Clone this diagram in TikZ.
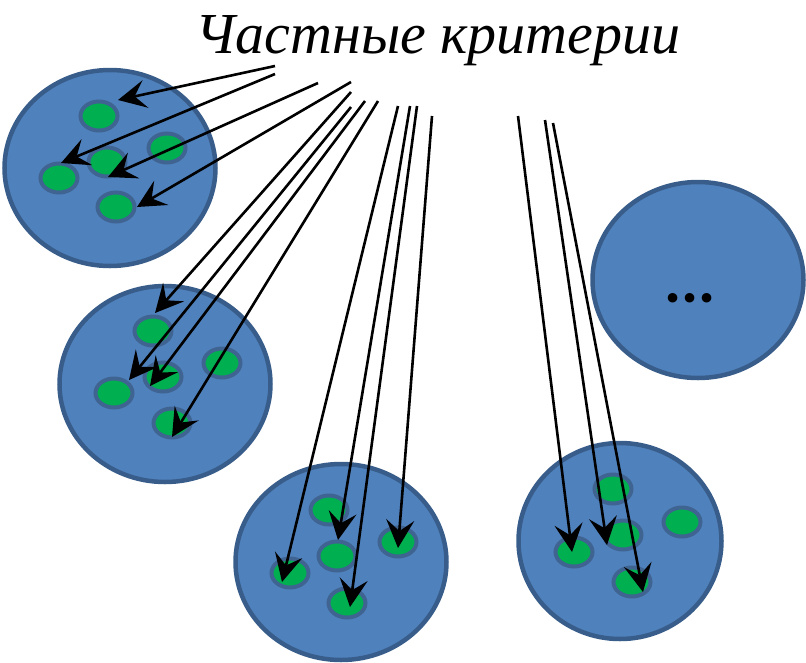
\documentclass[tikz,border=0pt]{standalone}
\usepackage{fontspec}
\setmainfont{Liberation Serif}
\newfontfamily\dotsfont{Carlito}
\usetikzlibrary{shapes.geometric,arrows.meta}
\definecolor{groupblue}{HTML}{4F81BD}
\definecolor{groupedge}{HTML}{385D8A}
\definecolor{itemedge}{HTML}{3F6491}
\definecolor{itemgreen}{HTML}{00B050}
\begin{document}
\begin{tikzpicture}[x=1pt, y=-1pt,
        group/.style={ellipse, draw=groupedge, fill=groupblue, line width=4.5pt,
            minimum width=211pt, minimum height=196pt, inner sep=0pt},
        item/.style={ellipse, draw=itemedge, fill=itemgreen, line width=4pt,
            minimum width=37pt, minimum height=29pt, inner sep=0pt},
        crit/.style={-{Stealth[length=28pt, width=28pt, inset=11pt]}, line width=2.6pt}]
    \useasboundingbox (0, 0) rectangle (806, 662);

    \node at (438, 53) [anchor=base, font=\itshape\fontsize{58}{64}\selectfont] (title) {Частные критерии};

    \node at (110, 168) [group] (G_1) {};
    \node at (165, 384) [group] (G_2) {};
    \node at (341, 562) [group] (G_3) {};
    \node at (620, 541) [group, minimum width=203pt] (G_4) {};
    \node at (698, 280) [group] (G_5) {};
    \node at (690, 298) [inner sep=0pt, font=\dotsfont\bfseries\fontsize{64}{64}\selectfont] (dots) {...};

    \node at (99, 116) [item] (s_11) {};
    \node at (167, 148) [item] (s_12) {};
    \node at (107, 162) [item] (s_13) {};
    \node at (59, 178) [item] (s_14) {};
    \node at (116, 207) [item] (s_15) {};

    \node at (153, 331) [item] (s_21) {};
    \node at (222, 363) [item] (s_22) {};
    \node at (163, 377) [item] (s_23) {};
    \node at (114, 393) [item] (s_24) {};
    \node at (172, 423) [item] (s_25) {};

    \node at (329, 510) [item] (s_31) {};
    \node at (398, 542) [item] (s_32) {};
    \node at (337, 556) [item] (s_33) {};
    \node at (290, 573) [item] (s_34) {};
    \node at (347, 603) [item] (s_35) {};

    \node at (613, 489) [item] (s_41) {};
    \node at (682, 522) [item] (s_42) {};
    \node at (623, 535) [item] (s_43) {};
    \node at (574, 552) [item] (s_44) {};
    \node at (632, 582) [item] (s_45) {};

    % free ends under the title
    \coordinate (c_1a) at (275, 66);
    \coordinate (c_1b) at (275, 74);
    \coordinate (c_1c) at (318, 83);
    \coordinate (c_1d) at (351, 82);
    \coordinate (c_2a) at (351, 92);
    \coordinate (c_2b) at (351, 107);
    \coordinate (c_2c) at (365, 101);
    \coordinate (c_2d) at (378, 101);
    \coordinate (c_3a) at (398, 106);
    \coordinate (c_3b) at (410, 106);
    \coordinate (c_3c) at (417, 106);
    \coordinate (c_3d) at (432, 116);
    \coordinate (c_4a) at (518, 116);
    \coordinate (c_4b) at (545, 120);
    \coordinate (c_4c) at (553, 123);

    % arrow tips on the items
    \coordinate (t_1a) at (118, 100);
    \coordinate (t_1b) at (61, 163);
    \coordinate (t_1c) at (108, 177);
    \coordinate (t_1d) at (137, 207);
    \coordinate (t_2a) at (155, 313);
    \coordinate (t_2b) at (129, 380);
    \coordinate (t_2c) at (150, 386);
    \coordinate (t_2d) at (172, 437);
    \coordinate (t_3a) at (282, 582);
    \coordinate (t_3b) at (338, 540);
    \coordinate (t_3c) at (350, 607);
    \coordinate (t_3d) at (398, 548);
    \coordinate (t_4a) at (572, 552);
    \coordinate (t_4b) at (607, 545);
    \coordinate (t_4c) at (643, 592);

    \path[crit]
        (c_1a) edge (t_1a)
        (c_1b) edge (t_1b)
        (c_1c) edge (t_1c)
        (c_1d) edge (t_1d)

        (c_2a) edge (t_2a)
        (c_2b) edge (t_2b)
        (c_2c) edge (t_2c)
        (c_2d) edge (t_2d)

        (c_3a) edge (t_3a)
        (c_3b) edge (t_3b)
        (c_3c) edge (t_3c)
        (c_3d) edge (t_3d)

        (c_4a) edge (t_4a)
        (c_4b) edge (t_4b)
        (c_4c) edge (t_4c);
\end{tikzpicture}
\end{document}
